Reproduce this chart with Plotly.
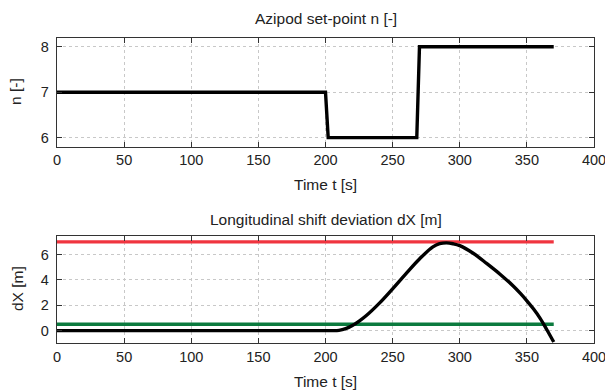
import plotly.graph_objects as go

# ---- data ----
t_n = [0, 200, 202, 268, 270, 370]
n_vals = [7, 7, 6, 6, 8, 8]

t_dx = [0, 200, 205, 210, 215, 220, 225, 230, 240, 250, 260, 270, 280, 285, 290,
        295, 300, 310, 320, 330, 340, 345, 350, 355, 360, 365, 370]
dx_vals = [0, 0, 0, 0.02, 0.15, 0.4, 0.75, 1.15, 2.15, 3.3, 4.5, 5.65, 6.6, 6.85, 6.92,
           6.85, 6.7, 6.1, 5.3, 4.45, 3.5, 2.95, 2.35, 1.7, 0.95, 0.05, -0.9]

limit_t = [0, 370]
upper_limit = [7, 7]
lower_limit = [0.5, 0.5]

x_ticks = [0, 50, 100, 150, 200, 250, 300, 350, 400]

FONT = "Liberation Sans, Arial, sans-serif"
TXT = "#222222"
W, H = 605, 392

fig = go.Figure()
fig.add_trace(go.Scatter(x=t_n, y=n_vals, mode="lines",
                         line=dict(color="black", width=3.4), xaxis="x", yaxis="y",
                         showlegend=False))
fig.add_trace(go.Scatter(x=limit_t, y=upper_limit, mode="lines",
                         line=dict(color="#f0343f", width=3.4), xaxis="x2", yaxis="y2",
                         showlegend=False))
fig.add_trace(go.Scatter(x=limit_t, y=lower_limit, mode="lines",
                         line=dict(color="#0b7a3e", width=3.4), xaxis="x2", yaxis="y2",
                         showlegend=False))
fig.add_trace(go.Scatter(x=t_dx, y=dx_vals, mode="lines", line_shape="spline",
                         line=dict(color="black", width=3.4), xaxis="x2", yaxis="y2",
                         showlegend=False))

xl, xr = 57 / W, 594 / W
top_dom = [(H - 146.7) / H, (H - 37.7) / H]
bot_dom = [(H - 343.3) / H, (H - 235.5) / H]

axcommon = dict(showline=True, linecolor="#333333", linewidth=1.3, mirror="ticks",
                ticks="inside", ticklen=5, tickcolor="#333333", tickwidth=1.3,
                showgrid=True, gridcolor="#c8c8c8", griddash="dot", gridwidth=1,
                zeroline=False, ticklabeloverflow="allow", automargin=False,
                tickfont=dict(family=FONT, size=14.5, color=TXT))

fig.update_layout(
    width=W, height=H, margin=dict(l=0, r=0, t=0, b=0),
    plot_bgcolor="white", paper_bgcolor="white",
    font=dict(family=FONT, color=TXT),
    xaxis=dict(domain=[xl, xr], range=[0, 400], tickvals=x_ticks, anchor="y", **axcommon),
    yaxis=dict(domain=top_dom, range=[5.8, 8.2], tickvals=[6, 7, 8], anchor="x",
               ticklabelstandoff=4, **axcommon),
    xaxis2=dict(domain=[xl, xr], range=[0, 400], tickvals=x_ticks, anchor="y2", **axcommon),
    yaxis2=dict(domain=bot_dom, range=[-1, 7.5], tickvals=[0, 2, 4, 6], anchor="x2",
                ticklabelstandoff=4, **axcommon),
)

def ann(text, x, y, angle=0, size=14):
    fig.add_annotation(text=text, x=x / W, y=1 - y / H, xref="paper", yref="paper",
                       showarrow=False, textangle=angle, xanchor="center", yanchor="middle",
                       font=dict(family=FONT, size=size, color=TXT))

mid = (57 + 594) / 2
ann("Azipod set-point n [-]", mid, 19, size=15.5)
ann("Time t [s]", mid, 185, size=15.5)
ann("n [-]", 15, 92, angle=-90, size=15.5)
ann("Longitudinal shift deviation dX [m]", mid, 219, size=15.5)
ann("Time t [s]", mid, 381, size=15.5)
ann("dX [m]", 17, 289, angle=-90, size=15.5)

fig.write_html("out.html")
